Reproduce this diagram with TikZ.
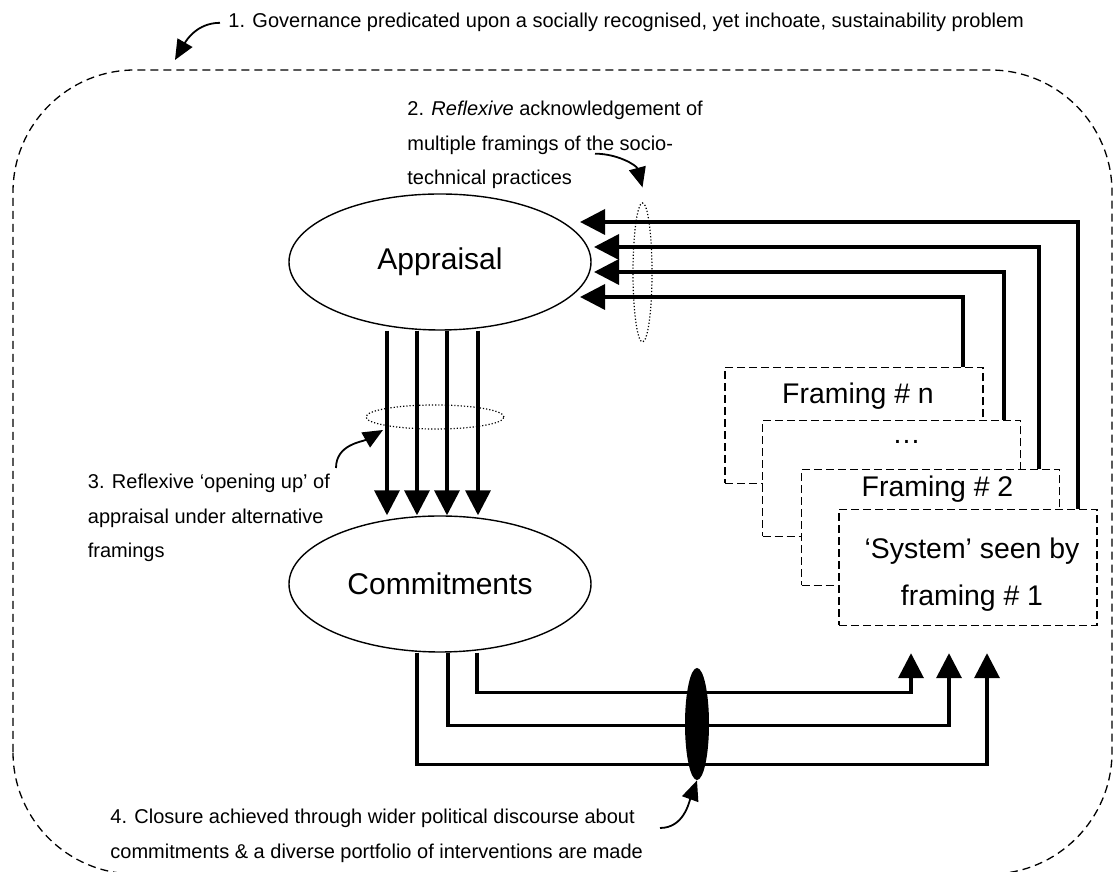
\documentclass[tikz,border=0pt]{standalone}
\usepackage{fontspec}
\setmainfont{Liberation Sans}
\usetikzlibrary{arrows.meta,shapes.geometric}

\begin{document}
\begin{tikzpicture}[x=0.5pt,y=0.5pt,
		base node/.style={ellipse,draw,line width=0.7pt,minimum width=151pt,minimum height=68pt,inner sep=0pt,font=\fontsize{15}{18}\selectfont},
		frame node/.style={rectangle,draw,fill=white,line width=0.7pt,dash pattern=on 4pt off 2pt,minimum width=129pt,minimum height=58pt,inner sep=0pt},
		frame text/.style={inner sep=0pt,align=center,font=\fontsize{14.2}{23.5}\selectfont},
		note/.style={inner sep=0pt,align=left,anchor=north west,font=\fontsize{10}{17.25}\selectfont},
		flow/.style={line width=1.8pt,-{Triangle[length=12.5pt,width=12.5pt]}},
		hint/.style={line width=0.9pt,-{Triangle[length=10pt,width=8.5pt]}},
		ring/.style={ellipse,draw,line width=0.6pt,dash pattern=on 0.6pt off 1pt,inner sep=0pt}]
		
		\useasboundingbox (0,0) rectangle (1114,872);
		% governance boundary
		\draw[line width=0.65pt,dash pattern=on 4pt off 2.5pt,rounded corners=61pt] (13,-2) rectangle (1112,802);
		
		\node[base node] (a) at (440,610) {Appraisal};
		\node[base node] (c) at (440,288) {Commitments};
		
		% framings, back to front
		\node[frame node] (fn) at (854,446.5) {};
		\node[frame text,anchor=base] (tn) at ([shift={(4,-37)}]fn.north) {Framing \# n};
		\node[frame node] (fd) at (891.5,393.5) {};
		\node[frame text,anchor=base] (td) at ([shift={(15,-24)}]fd.north) {…};
		\node[frame node] (f2) at (930.5,344.5) {};
		\node[frame text,anchor=base] (t2) at ([shift={(7,-28)}]f2.north) {Framing \# 2};
		\node[frame node] (sys) at (968,304.5) {};
		\node[frame text] (ts) at ([shift={(4,-7)}]sys.center) {‘System’ seen by\\framing \# 1};
		
		\foreach \nd/\dx/\ex/\ey in {sys/20/140/40, f2/21/154/15, fd/17/154/-10, fn/21/140/-35}
		\draw[flow] ([shift={(-\dx,0)}]\nd.north east) |- ([shift={(\ex,\ey)}]a.center);
		\foreach \dx in {-53,-23,7,38}
		\draw[flow] ([shift={(\dx,0)}]a.south) -- ([shift={(\dx,0)}]c.north);
		\foreach \dx/\dy/\ex in {-23/112/19, 8/73/-19, 37/40/-57}
		\draw[flow] ([shift={(\dx,0)}]c.south) -- ++(0,-\dy) -| ([shift={(\ex,-27)}]sys.south);
		
		\node[ring,minimum width=69pt,minimum height=12pt] (o) at (435,455) {};
		\node[ring,minimum width=9.5pt,minimum height=69.5pt] (r) at (642.5,599.5) {};
		\node[ellipse,fill=black,minimum width=12pt,minimum height=56pt,inner sep=0pt] (k) at (697,148) {};
		
		\node[note,anchor=base west] (l1) at (228,844) {1. Governance predicated upon a socially recognised, yet inchoate, sustainability problem};
		\node[note] (l2) at (407,771.3) {2. \textit{Reflexive} acknowledgement of\\multiple framings of the socio-\\technical practices};
		\node[note] (l3) at (87.5,398) {3. Reflexive ‘opening up’ of\\appraisal under alternative\\framings};
		\node[note] (l4) at (110,63) {4. Closure achieved through wider political discourse about\\commitments \& a diverse portfolio of interventions are made};
		
		\coordinate (g) at (175,812);
		\draw[hint] ([xshift=-4pt]l1.west) to[out=180,in=60] (g);
		\draw[hint] ([shift={(188,-53)}]l2.north west) to[out=0,in=105] ([shift={(0,15)}]r.north);
		\draw[hint] ([shift={(248.5,6)}]l3.north west) to[out=90,in=210] ([shift={(-52,-13)}]o.center);
		\draw[hint] ([shift={(550,-19)}]l4.north west) to[out=0,in=-110] (k.south);
%		\draw[hint] (l4.east) -- (k.south);
\end{tikzpicture}
\end{document}
